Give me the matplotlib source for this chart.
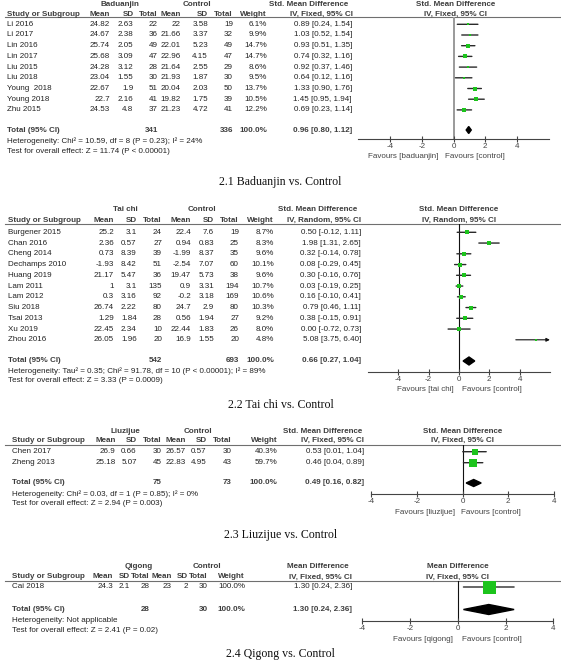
import matplotlib
matplotlib.use('Agg')
import matplotlib.pyplot as plt
from matplotlib.patches import Polygon

W, H = 561, 662
DPI = 100
plt.rcParams['font.family'] = ['Liberation Sans', 'DejaVu Sans']

# ---------------- data ----------------
# 2.1 Baduanjin vs. Control
bad_studies = ["Li 2016", "Li 2017", "Lin 2016", "Lin 2017", "Liu 2015", "Liu 2018",
               "Young  2018", "Young 2018", "Zhu 2015"]
bad_mean_e = [24.82, 24.67, 25.74, 25.68, 24.28, 23.04, 22.67, 22.7, 24.53]
bad_sd_e = [2.63, 2.38, 2.05, 3.09, 3.12, 1.55, 1.9, 2.16, 4.8]
bad_n_e = [22, 36, 49, 47, 28, 30, 51, 41, 37]
bad_mean_c = [22, 21.66, 22.01, 22.96, 21.64, 21.93, 20.04, 19.82, 21.23]
bad_sd_c = [3.58, 3.37, 5.23, 4.15, 2.55, 1.87, 2.03, 1.75, 4.72]
bad_n_c = [19, 32, 49, 47, 29, 30, 50, 39, 41]
bad_weight = [6.1, 9.9, 14.7, 14.7, 8.6, 9.5, 13.7, 10.5, 12.2]
bad_est = [0.89, 1.03, 0.93, 0.74, 0.92, 0.64, 1.33, 1.45, 0.69]
bad_lo = [0.24, 0.52, 0.51, 0.32, 0.37, 0.12, 0.90, 0.95, 0.23]
bad_hi = [1.54, 1.54, 1.35, 1.16, 1.46, 1.16, 1.76, 1.94, 1.14]
bad_total = [341, 336, 0.96, 0.80, 1.12]

# 2.2 Tai chi vs. Control
tai_studies = ["Burgener 2015", "Chan 2016", "Cheng 2014", "Dechamps 2010", "Huang 2019",
               "Lam 2011", "Lam 2012", "Siu 2018", "Tsai 2013", "Xu 2019", "Zhou 2016"]
tai_mean_e = [25.2, 2.36, 0.73, -1.93, 21.17, 1, 0.3, 26.74, 1.29, 22.45, 26.05]
tai_sd_e = [3.1, 0.57, 8.39, 8.42, 5.47, 3.1, 3.16, 2.22, 1.84, 2.34, 1.96]
tai_n_e = [24, 27, 39, 51, 36, 135, 92, 80, 28, 10, 20]
tai_mean_c = [22.4, 0.94, -1.99, -2.54, 19.47, 0.9, -0.2, 24.7, 0.56, 22.44, 16.9]
tai_sd_c = [7.6, 0.83, 8.37, 7.07, 5.73, 3.31, 3.18, 2.9, 1.94, 1.83, 1.55]
tai_n_c = [19, 25, 35, 60, 38, 194, 169, 80, 27, 26, 20]
tai_weight = [8.7, 8.3, 9.6, 10.1, 9.6, 10.7, 10.6, 10.3, 9.2, 8.0, 4.8]
tai_est = [0.50, 1.98, 0.32, 0.08, 0.30, 0.03, 0.16, 0.79, 0.38, 0.00, 5.08]
tai_lo = [-0.12, 1.31, -0.14, -0.29, -0.16, -0.19, -0.10, 0.46, -0.15, -0.72, 3.75]
tai_hi = [1.11, 2.65, 0.78, 0.45, 0.76, 0.25, 0.41, 1.11, 0.91, 0.73, 6.40]
tai_total = [542, 693, 0.66, 0.27, 1.04]

# 2.3 Liuzijue vs. Control
liu_studies = ["Chen 2017", "Zheng 2013"]
liu_mean_e = [26.9, 25.18]
liu_sd_e = [0.66, 5.07]
liu_n_e = [30, 45]
liu_mean_c = [26.57, 22.83]
liu_sd_c = [0.57, 4.95]
liu_n_c = [30, 43]
liu_weight = [40.3, 59.7]
liu_est = [0.53, 0.46]
liu_lo = [0.01, 0.04]
liu_hi = [1.04, 0.89]
liu_total = [75, 73, 0.49, 0.16, 0.82]

# 2.4 Qigong vs. Control
qi_studies = ["Cai 2018"]
qi_mean_e = [24.3]
qi_sd_e = [2.1]
qi_n_e = [28]
qi_mean_c = [23]
qi_sd_c = [2]
qi_n_c = [30]
qi_weight = [100.0]
qi_est = [1.30]
qi_lo = [0.24]
qi_hi = [2.36]
qi_total = [28, 30, 1.30, 0.24, 2.36]

tick_values = [-4, -2, 0, 2, 4]
tick_labels = ["-4", "-2", "0", "2", "4"]

panels = [
    dict(group="Baduanjin", effect="Std. Mean Difference", method="IV, Fixed, 95% CI",
         studies=bad_studies, me=bad_mean_e, se=bad_sd_e, ne=bad_n_e,
         mc=bad_mean_c, sc=bad_sd_c, nc=bad_n_c, w=bad_weight,
         est=bad_est, lo=bad_lo, hi=bad_hi, total=bad_total,
         het="Heterogeneity: Chi\u00b2 = 10.59, df = 8 (P = 0.23); I\u00b2 = 24%",
         test="Test for overall effect: Z = 11.74 (P < 0.00001)",
         fav_l="Favours [baduanjin]", fav_r="Favours [control]",
         title="2.1 Baduanjin vs. Control",
         # layout
         sx=7, cols=[110, 133.5, 158, 181, 208, 233, 267, 352],
         gx=[120, 197], eff_r=[348, 353], rh_x=[456, 455],
         y_grp=4, y_col=14, y_line=16.8, y_row0=24.3, dy=10.7, y_tot=130,
         y_het=141.5, y_test=151.5, y_axis=138.5, y_fav=156, y_title=182,
         zero=453.5, ppu=15.85, xlim=(-6, 6), k=0.95, dh=7, zcol='#9a9a9a', zlw=1.4,
         fav_lx=438, fav_rx=445),
    dict(group="Tai chi", effect="Std. Mean Difference", method="IV, Random, 95% CI",
         studies=tai_studies, me=tai_mean_e, se=tai_sd_e, ne=tai_n_e,
         mc=tai_mean_c, sc=tai_sd_c, nc=tai_n_c, w=tai_weight,
         est=tai_est, lo=tai_lo, hi=tai_hi, total=tai_total,
         het="Heterogeneity: Tau\u00b2 = 0.35; Chi\u00b2 = 91.78, df = 10 (P < 0.00001); I\u00b2 = 89%",
         test="Test for overall effect: Z = 3.33 (P = 0.0009)",
         fav_l="Favours [tai chi]", fav_r="Favours [control]",
         title="2.2 Tai chi vs. Control",
         sx=8, cols=[114, 136.7, 162, 191, 214, 239, 274, 361],
         gx=[125, 201.7], eff_r=[357, 361], rh_x=[459, 459],
         y_grp=209.3, y_col=220.7, y_line=224, y_row0=232.3, dy=10.75, y_tot=361,
         y_het=371, y_test=380, y_axis=372, y_fav=389.5, y_title=405,
         zero=459, ppu=15.15, xlim=(-6, 6), k=1.15, dh=8, zcol='#111111', zlw=0.8,
         fav_lx=453.5, fav_rx=462.5),
    dict(group="Liuzijue", effect="Std. Mean Difference", method="IV, Fixed, 95% CI",
         studies=liu_studies, me=liu_mean_e, se=liu_sd_e, ne=liu_n_e,
         mc=liu_mean_c, sc=liu_sd_c, nc=liu_n_c, w=liu_weight,
         est=liu_est, lo=liu_lo, hi=liu_hi, total=liu_total,
         het="Heterogeneity: Chi\u00b2 = 0.03, df = 1 (P = 0.85); I\u00b2 = 0%",
         test="Test for overall effect: Z = 2.94 (P = 0.003)",
         fav_l="Favours [liuzijue]", fav_r="Favours [control]",
         title="2.3 Liuzijue vs. Control",
         sx=12, cols=[115.7, 136.7, 161.7, 186, 206.7, 232, 277.7, 364],
         gx=[125, 198], eff_r=[362, 364], rh_x=[463, 462],
         y_grp=431.7, y_col=440.7, y_line=444.5, y_row0=451.7, dy=11, y_tot=483,
         y_het=494, y_test=503.5, y_axis=494, y_fav=512, y_title=535,
         zero=462.5, ppu=22.8, xlim=(-4, 4), k=0.94, dh=7, zcol='#111111', zlw=0.8,
         fav_lx=455, fav_rx=461),
    dict(group="Qigong", effect="Mean Difference", method="IV, Fixed, 95% CI",
         studies=qi_studies, me=qi_mean_e, se=qi_sd_e, ne=qi_n_e,
         mc=qi_mean_c, sc=qi_sd_c, nc=qi_n_c, w=qi_weight,
         est=qi_est, lo=qi_lo, hi=qi_hi, total=qi_total,
         het="Heterogeneity: Not applicable",
         test="Test for overall effect: Z = 2.41 (P = 0.02)",
         fav_l="Favours [qigong]", fav_r="Favours [control]",
         title="2.4 Qigong vs. Control",
         sx=12.5, cols=[113, 130, 150, 172, 188, 208, 245, 352],
         gx=[139, 207], eff_r=[349, 352], rh_x=[458, 457.5],
         y_grp=566, y_col=577, y_line=581, y_row0=587, dy=11, y_tot=609.5,
         y_het=620.5, y_test=630.5, y_axis=621, y_fav=639.5, y_title=654,
         zero=457.7, ppu=23.9, xlim=(-4, 4), k=1.3, dh=10, zcol='#111111', zlw=0.8,
         fav_lx=453, fav_rx=462.5),
]

FS = 5.75
HEAD_C = '#3d3d3d'
TXT_C = '#222222'
GREEN = '#1cc41c'
CI_C = '#2a2a2a'

fig = plt.figure(figsize=(W / DPI, H / DPI), dpi=DPI)
fig.patch.set_facecolor('white')
bg = fig.add_axes([0, 0, 1, 1])
bg.set_xlim(0, W)
bg.set_ylim(H, 0)
bg.axis('off')


def g(v):
    return '{:g}'.format(v)


def T(x, y, s, ha='left', bold=False, color=TXT_C, size=FS, **kw):
    bg.text(x, y, s, ha=ha, va='center', fontsize=size,
            fontweight='bold' if bold else 'normal', color=color, **kw)


for p in panels:
    c = p['cols']
    # group headers
    T(p['gx'][0], p['y_grp'], p['group'], ha='center', bold=True, color=HEAD_C)
    T(p['gx'][1], p['y_grp'], "Control", ha='center', bold=True, color=HEAD_C)
    T(p['eff_r'][0], p['y_grp'], p['effect'], ha='right', bold=True, color=HEAD_C)
    T(p['rh_x'][0], p['y_grp'], p['effect'], ha='center', bold=True, color=HEAD_C)
    # column headers
    T(p['sx'], p['y_col'], "Study or Subgroup", bold=True, color=HEAD_C)
    for x, lab in zip(c[:7], ["Mean", "SD", "Total", "Mean", "SD", "Total", "Weight"]):
        T(x, p['y_col'], lab, ha='right', bold=True, color=HEAD_C)
    T(p['eff_r'][1], p['y_col'], p['method'], ha='right', bold=True, color=HEAD_C)
    T(p['rh_x'][1], p['y_col'], p['method'], ha='center', bold=True, color=HEAD_C)
    bg.plot([5, W], [p['y_line'], p['y_line']], color='#6f6f6f', lw=0.8)

    # study rows
    n = len(p['studies'])
    ys = [p['y_row0'] + i * p['dy'] for i in range(n)]
    for i in range(n):
        y = ys[i]
        T(p['sx'], y, p['studies'][i])
        vals = [g(p['me'][i]), g(p['se'][i]), str(p['ne'][i]),
                g(p['mc'][i]), g(p['sc'][i]), str(p['nc'][i]),
                '{:.1f}%'.format(p['w'][i]),
                '{:.2f} [{:.2f}, {:.2f}]'.format(p['est'][i], p['lo'][i], p['hi'][i])]
        for x, v in zip(c, vals):
            T(x, y, v, ha='right')

    # total row
    tot = p['total']
    T(p['sx'], p['y_tot'], "Total (95% CI)", bold=True, color=HEAD_C)
    T(c[2], p['y_tot'], str(tot[0]), ha='right', bold=True, color=HEAD_C)
    T(c[5], p['y_tot'], str(tot[1]), ha='right', bold=True, color=HEAD_C)
    T(c[6], p['y_tot'], "100.0%", ha='right', bold=True, color=HEAD_C)
    T(c[7], p['y_tot'], '{:.2f} [{:.2f}, {:.2f}]'.format(tot[2], tot[3], tot[4]),
      ha='right', bold=True, color=HEAD_C)
    T(p['sx'], p['y_het'], p['het'])
    T(p['sx'], p['y_test'], p['test'])
    T(p['fav_lx'], p['y_fav'], p['fav_l'], ha='right', color='#444444')
    T(p['fav_rx'], p['y_fav'], p['fav_r'], ha='left', color='#444444')
    bg.text(W / 2, p['y_title'], p['title'], ha='center', va='center',
            fontsize=8.6, family=['Liberation Serif', 'DejaVu Serif'], color='#111111')

    # forest axes
    x0, x1 = p['xlim']
    L = p['zero'] + x0 * p['ppu']
    R = p['zero'] + x1 * p['ppu']
    top, bot = p['y_line'], p['y_axis']
    ax = fig.add_axes([L / W, 1 - bot / H, (R - L) / W, (bot - top) / H])
    ax.set_xlim(x0, x1)
    ax.set_ylim(bot, top)
    ax.patch.set_alpha(0)
    for sp in ['top', 'left', 'right']:
        ax.spines[sp].set_visible(False)
    ax.spines['bottom'].set_color('#444444')
    ax.spines['bottom'].set_linewidth(0.8)
    ax.set_yticks([])
    ax.set_xticks(tick_values)
    ax.set_xticklabels(tick_labels)
    ax.tick_params(axis='x', direction='inout', length=5, width=0.8, color='#444444',
                   labelsize=FS, labelcolor='#444444', pad=0.5)
    ax.axvline(0, color=p['zcol'], lw=p['zlw'], zorder=1)

    for i in range(n):
        lo_i, hi_i = p['lo'][i], p['hi'][i]
        if hi_i > x1:
            ax.annotate('', xy=(x1, ys[i]), xytext=(lo_i, ys[i]),
                        arrowprops=dict(arrowstyle='-|>', color='#111111', lw=0.8,
                                        mutation_scale=5, shrinkA=0, shrinkB=0),
                        annotation_clip=False)
        else:
            ax.annotate('', xy=(hi_i, ys[i]), xytext=(lo_i, ys[i]),
                        arrowprops=dict(arrowstyle='-', color=CI_C, lw=1.0,
                                        shrinkA=0, shrinkB=0),
                        annotation_clip=False, zorder=2)
        side = p['k'] * p['w'][i] ** 0.5
        ax.plot([p['est'][i]], [ys[i]], marker='s', linestyle='none', ms=side * 0.72,
                color=GREEN, mec=GREEN, mew=0, zorder=3)

    h = p['dh'] / 2
    ax.add_patch(Polygon([(tot[3], p['y_tot']), (tot[2], p['y_tot'] - h),
                          (tot[4], p['y_tot']), (tot[2], p['y_tot'] + h)],
                         closed=True, color='black', zorder=3))

fig.savefig('out.png', dpi=DPI, facecolor='white')
